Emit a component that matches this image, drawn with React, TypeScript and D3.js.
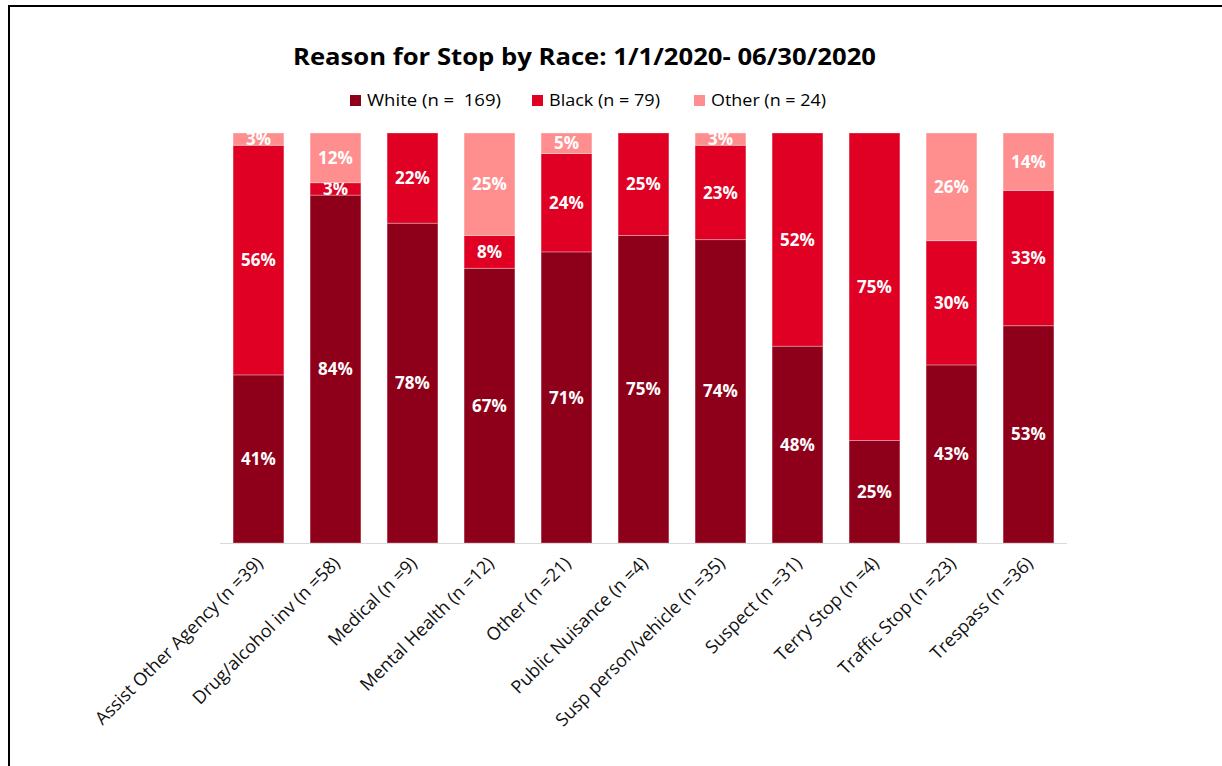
import React from "react";
import * as d3 from "d3";

const categories = [
  "Assist Other Agency (n =39)",
  "Drug/alcohol inv (n =58)",
  "Medical (n =9)",
  "Mental Health (n =12)",
  "Other (n =21)",
  "Public Nuisance (n =4)",
  "Susp person/vehicle (n =35)",
  "Suspect (n =31)",
  "Terry Stop (n =4)",
  "Traffic Stop (n =23)",
  "Trespass (n =36)",
];
const white = [41, 84, 78, 67, 71, 75, 74, 48, 25, 43, 53];
const black = [56, 3, 22, 8, 24, 25, 23, 52, 75, 30, 33];
const other = [3, 12, 0, 25, 5, 0, 3, 0, 0, 26, 14];

const seriesKeys = ["white", "black", "other"];
const seriesNames = ["White (n =  169)", "Black (n = 79)", "Other (n = 24)"];
const colors = ["#8E0019", "#DF0024", "#FF8F8F"];
const title = "Reason for Stop by Race: 1/1/2020- 06/30/2020";

const W = 1222;
const H = 766;
const FONT = "'Open Sans', 'Noto Sans', sans-serif";

export default function App() {
  const rows = categories.map((c, i) => ({
    cat: c,
    white: white[i],
    black: black[i],
    other: other[i],
  }));
  const stacked = d3
    .stack<any>()
    .keys(seriesKeys)
    .offset(d3.stackOffsetExpand)(rows);

  const x = d3
    .scaleBand()
    .domain(categories)
    .range([220, 1067])
    .paddingInner(0.34)
    .paddingOuter(0.17);
  const y = d3.scaleLinear().domain([0, 1]).range([543, 133]);

  const legendX = [350, 532, 694];
  const legendW = [134, 111, 115];

  return (
    <svg
      width={W}
      height={H}
      style={{ position: "absolute", left: 0, top: 0, background: "#fff" }}
      fontFamily={FONT}
    >
      <rect x={0} y={0} width={W} height={H} fill="#fff" />
      <rect x={9} y={6} width={1400} height={900} fill="none" stroke="#000" strokeWidth={2} />
      <text
        x={584.5}
        y={65}
        textAnchor="middle"
        fontSize={23}
        fontWeight="bold"
        fill="#000"
        textLength={583}
        lengthAdjust="spacingAndGlyphs"
      >
        {title}
      </text>
      {seriesNames.map((n, i) => (
        <g key={n}>
          <rect x={legendX[i]} y={95} width={11} height={11} fill={colors[i]} />
          <text
            x={legendX[i] + 17}
            y={106}
            fontSize={16}
            fill="#000"
            style={{ whiteSpace: "pre" }}
            textLength={legendW[i]}
            lengthAdjust="spacingAndGlyphs"
          >
            {n}
          </text>
        </g>
      ))}
      {stacked.map((s, si) => (
        <g key={s.key}>
          {s.map((d, i) => {
            const v = (d.data as any)[s.key] as number;
            if (!v) return null;
            const x0 = x(categories[i])!;
            const y1 = y(d[1]);
            const y0 = y(d[0]);
            return (
              <g key={i}>
                <rect
                  x={x0}
                  y={y1}
                  width={x.bandwidth()}
                  height={y0 - y1}
                  fill={colors[si]}
                  stroke="#ffffff"
                  strokeOpacity={0.3}
                  strokeWidth={1}
                />
                <text
                  x={x0 + x.bandwidth() / 2}
                  y={(y0 + y1) / 2}
                  dy="0.36em"
                  textAnchor="middle"
                  fontSize={17}
                  fontWeight="bold"
                  fill="#fff"
                >
                  {v + "%"}
                </text>
              </g>
            );
          })}
        </g>
      ))}
      <line x1={220} x2={1067} y1={543.5} y2={543.5} stroke="#d9d9d9" strokeWidth={1} />
      {categories.map((c) => {
        const cx = x(c)! + x.bandwidth() / 2 + 1;
        const cy = 560;
        return (
          <text
            key={c}
            transform={`translate(${cx},${cy}) rotate(-45)`}
            textAnchor="end"
            dy="0.35em"
            fontSize={18}
            fill="#111"
          >
            {c}
          </text>
        );
      })}
    </svg>
  );
}
